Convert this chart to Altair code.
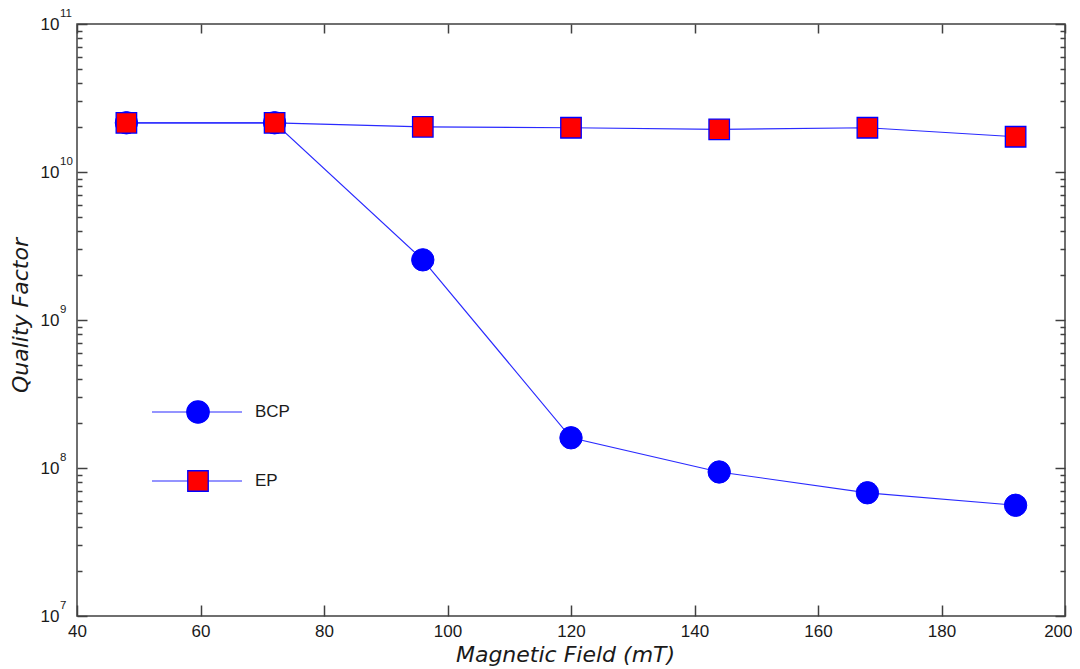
import altair as alt
import pandas as pd

# ---- data ----
field_mT = [48, 72, 96, 120, 144, 168, 192]
q_bcp = [2.15e10, 2.15e10, 2.55e9, 1.6e8, 9.4e7, 6.8e7, 5.6e7]
q_ep = [2.15e10, 2.15e10, 2.02e10, 1.99e10, 1.94e10, 1.99e10, 1.73e10]
series_names = ["BCP", "EP"]
x_ticks = [40, 60, 80, 100, 120, 140, 160, 180, 200]
y_exponents = [7, 8, 9, 10, 11]
minor_mantissas = [2, 3, 4, 5, 6, 7, 8, 9]

df_bcp = pd.DataFrame({"field": field_mT, "Q": q_bcp})
df_ep = pd.DataFrame({"field": field_mT, "Q": q_ep})
major_vals = [10.0 ** e for e in y_exponents]
minor_vals = [m * 10.0 ** e for e in y_exponents[:-1] for m in minor_mantissas]
df_exp = pd.DataFrame({"e": [str(e) for e in y_exponents], "val": major_vals})

LINE = "#2a2aff"
AX = "#404040"
TXT = "#1a1a1a"
LABEL_FONT = "Liberation Sans"
TITLE_FONT = "DejaVu Sans"

xs = alt.Scale(domain=[40, 200], nice=False, zero=False)
ys = alt.Scale(type="log", domain=[1e7, 1e11], nice=False)

common = dict(domain=False, grid=False, tickColor=AX, tickWidth=1.5)

x_bottom = alt.Axis(orient="bottom", values=x_ticks, tickSize=11, offset=-11,
                    labelPadding=7, labelFontSize=17, labelFont=LABEL_FONT,
                    labelColor=TXT, labelFlush=False, labelOverlap=False,
                    labelAlign=alt.condition("datum.value == 200",
                                             alt.value("right"),
                                             alt.value("center")),
                    labelOffset=alt.condition("datum.value == 200",
                                              alt.value(7), alt.value(0)),
                    title="Magnetic Field (mT)", titleFont=TITLE_FONT,
                    titleFontStyle="italic", titleFontWeight="normal",
                    titleFontSize=22, titleColor=TXT, titlePadding=5,
                    titleX=488, **common)
x_top = alt.Axis(orient="top", values=x_ticks, tickSize=9, offset=-9,
                 labels=False, title=None, **common)
y_left = alt.Axis(orient="left", values=major_vals, tickSize=10, offset=-10,
                  labelExpr="'10'", labelAlign="left", labelBaseline="middle",
                  labelPadding=37, labelFontSize=17, labelFont=LABEL_FONT,
                  labelColor=TXT, labelOverlap=False, labelFlush=False,
                  title="Quality Factor", titleFont=TITLE_FONT,
                  titleFontStyle="italic", titleFontWeight="normal",
                  titleFontSize=22, titleColor=TXT, titlePadding=8,
                  titleY=291, **common)
y_left_minor = alt.Axis(orient="left", values=minor_vals, tickSize=5, offset=-5,
                        labels=False, title=None, **common)
y_right = alt.Axis(orient="right", values=major_vals, tickSize=10, offset=-10,
                   labels=False, title=None, **common)
y_right_minor = alt.Axis(orient="right", values=minor_vals, tickSize=5, offset=-5,
                         labels=False, title=None, **common)

bcp_line = alt.Chart(df_bcp).mark_line(color=LINE, strokeWidth=1.2).encode(
    x=alt.X("field:Q", scale=xs, axis=x_bottom),
    y=alt.Y("Q:Q", scale=ys, axis=y_left),
)
ep_line = alt.Chart(df_ep).mark_line(color=LINE, strokeWidth=1.2).encode(
    x=alt.X("field:Q", scale=xs, axis=x_top),
    y=alt.Y("Q:Q", scale=ys, axis=y_right),
)
bcp_pts = alt.Chart(df_bcp).mark_point(shape="circle", filled=True, fill="blue",
                                       stroke="blue", strokeWidth=1, size=500,
                                       opacity=1).encode(
    x=alt.X("field:Q", scale=xs, axis=None),
    y=alt.Y("Q:Q", scale=ys, axis=y_left_minor),
)
ep_pts = alt.Chart(df_ep).mark_point(shape="square", filled=True, fill="red",
                                     stroke="blue", strokeWidth=1.3, size=420,
                                     opacity=1, fillOpacity=1).encode(
    x=alt.X("field:Q", scale=xs, axis=None),
    y=alt.Y("Q:Q", scale=ys, axis=y_right_minor),
)
exp_text = alt.Chart(df_exp).mark_text(align="left", baseline="middle", dy=-10,
                                       fontSize=11.5, font=LABEL_FONT,
                                       color=TXT).encode(
    x=alt.value(-17),
    y=alt.Y("val:Q", scale=ys, axis=None),
    text="e:N",
)

# ---- in-plot legend ----
legend_layers = []
legend_style = {
    "BCP": dict(shape="circle", fill="blue", stroke="blue", size=500, ypix=388),
    "EP": dict(shape="square", fill="red", stroke="blue", size=420, ypix=457),
}
for name in series_names:
    st = legend_style[name]
    ldf = pd.DataFrame({"label": [name]})
    base = alt.Chart(ldf)
    legend_layers.append(base.mark_rule(color=LINE, strokeWidth=1.2).encode(
        x=alt.value(75), x2=alt.value(165), y=alt.value(st["ypix"])))
    legend_layers.append(base.mark_point(shape=st["shape"], filled=True,
                                         fill=st["fill"], stroke=st["stroke"],
                                         strokeWidth=1.3, size=st["size"],
                                         opacity=1).encode(
        x=alt.value(121), y=alt.value(st["ypix"])))
    legend_layers.append(base.mark_text(align="left", baseline="middle",
                                        fontSize=17, font=LABEL_FONT,
                                        color=TXT).encode(
        x=alt.value(178), y=alt.value(st["ypix"]), text="label:N"))

chart = alt.layer(
    bcp_line, ep_line, bcp_pts, ep_pts, exp_text, *legend_layers
).resolve_axis(
    x="independent", y="independent"
).properties(
    width=988, height=592,
    autosize=alt.AutoSizeParams(type="none"),
    padding={"left": 69, "top": 16, "right": 7, "bottom": 50},
    background="white",
).configure_view(
    stroke=AX, strokeWidth=1.5
)

chart.save("out.html", embed_options={"renderer": "svg", "actions": False})
